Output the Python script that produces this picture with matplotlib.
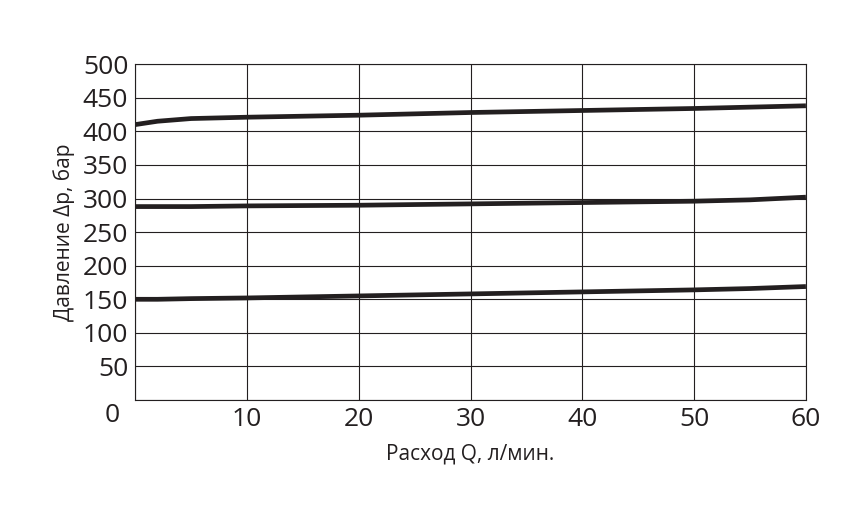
import numpy as np
from matplotlib import pyplot as plt

plt.rcParams['font.family'] = ['Open Sans', 'DejaVu Sans']

flow = [0, 2, 5, 10, 20, 30, 40, 50, 55, 60]
p_high = [410, 415, 419, 421, 424, 428, 431, 434, 436, 438]
p_mid = [288, 288, 288, 289, 290, 292, 294, 296, 298, 302]
p_low = [150, 150, 151, 152, 155, 158, 161, 164, 166, 169]

x_ticks = [0, 10, 20, 30, 40, 50, 60]
y_ticks = list(range(0, 501, 50))
y_labels = [str(v) if v > 0 else '' for v in y_ticks]

fig = plt.figure(figsize=(8.61, 5.09), dpi=100)
ax = fig.add_axes([0.157, 0.214, 0.779, 0.660])

for series in (p_high, p_mid, p_low):
    ax.plot(flow, series, color='#231f20', linewidth=3.4, solid_capstyle='butt')

ax.set_xlim(0, 60)
ax.set_ylim(0, 500)
ax.set_xticks(x_ticks)
ax.set_xticklabels([str(v) if v > 0 else '' for v in x_ticks])
ax.set_yticks(y_ticks)
ax.set_yticklabels(y_labels)
ax.grid(True, color='#231f20', linewidth=0.8)
ax.tick_params(length=0, labelsize=19, colors='#231f20', pad=5)
for s in ax.spines.values():
    s.set_linewidth(0.8)
    s.set_color('#231f20')
ax.text(-1.4, -4, '0', ha='right', va='top', fontsize=19, color='#231f20')

ax.set_xlabel('Расход Q, л/мин.', fontsize=15, color='#231f20', labelpad=8)
ax.set_ylabel('Давление Δp, бар', fontsize=15, color='#231f20', labelpad=6)

fig.savefig('out.png', dpi=100)
